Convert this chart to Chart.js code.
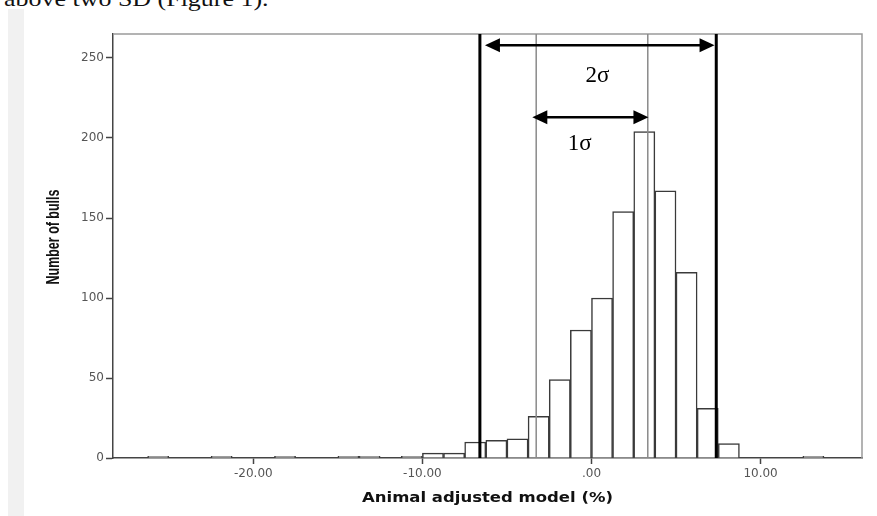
<!DOCTYPE html>
<html>
<head>
<meta charset="utf-8">
<script src="https://cdn.jsdelivr.net/npm/chart.js@4.4.0/dist/chart.umd.min.js"></script>
<style>
  body { margin: 0; background: #fff; overflow: hidden; }
  #wrap { position: relative; width: 877px; height: 516px; overflow: hidden; }
  #strip { position: absolute; left: 8px; top: 9px; width: 16px; height: 507px; background: #f1f1f1; }
  #caption { position: absolute; left: 4px; top: -12px; font: 22px/22px 'Liberation Serif', serif; white-space: nowrap; color: #111;
             transform: scaleX(1.18); transform-origin: 0 0; }
  canvas { position: absolute; left: 0; top: 0; }
</style>
</head>
<body>
<div id="wrap">
  <div id="caption">above two SD (Figure 1).</div>
  <div id="strip"></div>
  <canvas id="myChart" width="877" height="516"></canvas>
</div>
<script>
// histogram bins (left edge, %) and counts
var binStart = [-26.25, -22.5, -18.75, -15, -13.75, -11.25, -10, -8.75, -7.5, -6.25, -5, -3.75,
                -2.5, -1.25, 0, 1.25, 2.5, 3.75, 5, 6.25, 7.5, 12.5];
var bulls = [1, 1, 1, 1, 1, 1, 3, 3, 10, 11, 12, 26, 49, 80, 100, 154, 204, 167, 116, 31, 9, 1];
var binWidth = 1.25;

var xTicks = [-20, -10, 0, 10];
var xTickLabels = ['-20.00', '-10.00', '.00', '10.00'];
var yTicks = [0, 50, 100, 150, 200, 250];
var xTitle = 'Animal adjusted model (%)';
var yTitle = 'Number of bulls';

// vertical reference lines: -2σ, -1σ, +1σ, +2σ
var sigmaLines = [-6.6, -3.27, 3.33, 7.38];
var sigmaLabels = ['2σ', '1σ'];
var arrowFrom = [-6.3, -3.5];
var arrowTo = [7.28, 3.37];
var arrowLevel = [258, 213];
var labelX = [0.36, -0.7];
var labelLevel = [239, 196];

var points = binStart.map(function (s, i) {
    return { x: s + binWidth / 2, y: bulls[i] };
});

function drawArrow(ctx, x1, x2, y) {
    var head = 15, half = 7;
    ctx.beginPath();
    ctx.moveTo(x1 + head - 2, y);
    ctx.lineTo(x2 - head + 2, y);
    ctx.stroke();
    ctx.beginPath();
    ctx.moveTo(x1, y); ctx.lineTo(x1 + head, y - half); ctx.lineTo(x1 + head, y + half); ctx.closePath();
    ctx.fill();
    ctx.beginPath();
    ctx.moveTo(x2, y); ctx.lineTo(x2 - head, y - half); ctx.lineTo(x2 - head, y + half); ctx.closePath();
    ctx.fill();
}

// text squeezed/stretched to a given length along its direction
function fitText(ctx, text, cx, cy, len, angle) {
    ctx.save();
    ctx.translate(cx, cy);
    ctx.rotate(angle);
    var w = ctx.measureText(text).width;
    ctx.scale(len / w, 1);
    ctx.fillText(text, 0, 0);
    ctx.restore();
}

var sigmaPlugin = {
    id: 'sigma',
    afterDatasetsDraw: function (chart) {
        var ctx = chart.ctx, a = chart.chartArea, x = chart.scales.x, y = chart.scales.y;
        ctx.save();
        // frame top / right
        ctx.strokeStyle = '#9a9a9a';
        ctx.lineWidth = 1.5;
        ctx.beginPath();
        ctx.moveTo(a.left, a.top); ctx.lineTo(a.right, a.top); ctx.lineTo(a.right, a.bottom);
        ctx.stroke();

        sigmaLines.forEach(function (v, i) {
            var px = x.getPixelForValue(v);
            var outer = (i === 0 || i === sigmaLines.length - 1);
            ctx.strokeStyle = outer ? '#000' : '#8a8a8a';
            ctx.lineWidth = outer ? 3 : 1.5;
            ctx.beginPath();
            ctx.moveTo(px, a.top); ctx.lineTo(px, a.bottom);
            ctx.stroke();
        });

        ctx.strokeStyle = '#000';
        ctx.fillStyle = '#000';
        ctx.lineWidth = 2.5;
        ctx.font = '23px "Liberation Serif", serif';
        ctx.textAlign = 'center';
        ctx.textBaseline = 'middle';
        for (var i = 0; i < sigmaLabels.length; i++) {
            drawArrow(ctx, x.getPixelForValue(arrowFrom[i]), x.getPixelForValue(arrowTo[i]), y.getPixelForValue(arrowLevel[i]));
            ctx.fillText(sigmaLabels[i], x.getPixelForValue(labelX[i]), y.getPixelForValue(labelLevel[i]));
        }

        // axis titles
        ctx.fillStyle = '#111';
        ctx.font = 'bold 18px "Liberation Sans", sans-serif';
        fitText(ctx, yTitle, 54, 237, 95, -Math.PI / 2);
        ctx.font = 'bold 14px "DejaVu Sans", sans-serif';
        fitText(ctx, xTitle, (a.left + a.right) / 2, 498, 251, 0);
        ctx.restore();
    }
};

var ctx = document.getElementById('myChart').getContext('2d');
var chart = new Chart(ctx, {
    type: 'bar',
    data: {
        datasets: [{
            label: yTitle,
            data: points,
            backgroundColor: '#fff',
            borderColor: '#3a3a3a',
            borderWidth: 1.5,
            barPercentage: 1,
            categoryPercentage: 1
        }]
    },
    options: {
        responsive: false,
        animation: false,
        layout: { padding: { top: 34, right: 15, left: 0, bottom: 0 } },
        plugins: { legend: { display: false }, tooltip: { enabled: false } },
        scales: {
            x: {
                type: 'linear',
                offset: false,
                min: -28.3,
                max: 16,
                afterBuildTicks: function (s) { s.ticks = xTicks.map(function (v) { return { value: v }; }); },
                afterFit: function (s) { s.height = 58; },
                ticks: {
                    color: '#555',
                    font: { family: 'DejaVu Sans', size: 12 },
                    padding: 3,
                    maxRotation: 0,
                    callback: function (v) { return xTickLabels[xTicks.indexOf(v)]; }
                },
                grid: { offset: false, drawOnChartArea: false, drawTicks: true, tickLength: 6, color: '#444', tickWidth: 1.5 },
                border: { display: true, color: '#444', width: 1.5 }
            },
            y: {
                min: 0,
                max: 265,
                afterBuildTicks: function (s) { s.ticks = yTicks.map(function (v) { return { value: v }; }); },
                afterFit: function (s) { s.width = 113; },
                ticks: {
                    color: '#555',
                    font: { family: 'DejaVu Sans', size: 12 },
                    padding: 2
                },
                grid: { drawOnChartArea: false, drawTicks: true, tickLength: 7, color: '#444', tickWidth: 1.5 },
                border: { display: true, color: '#444', width: 1.5 }
            }
        }
    },
    plugins: [sigmaPlugin]
});
</script>
</body>
</html>
